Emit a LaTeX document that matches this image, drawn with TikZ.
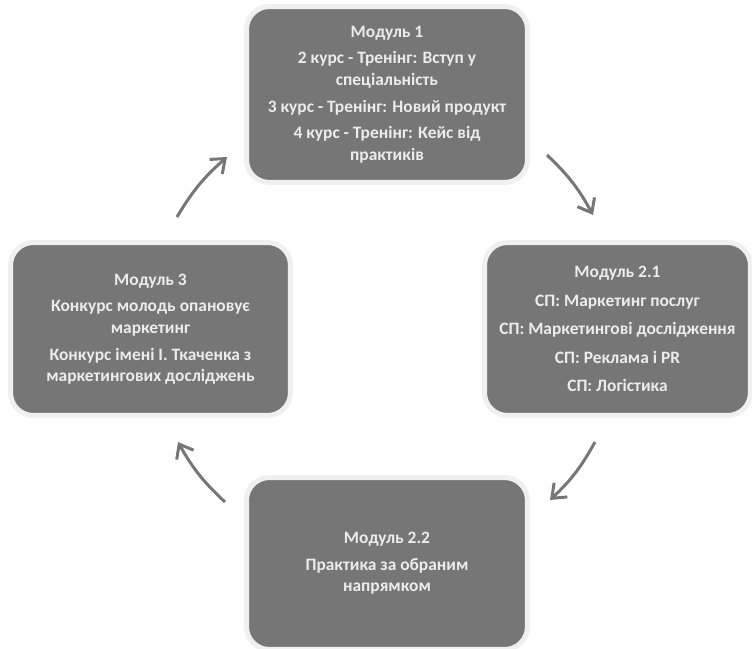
\documentclass[tikz,border=0pt]{standalone}
\usepackage{fontspec}
\setmainfont{Carlito}
\usepackage{tikz}
\usetikzlibrary{calc,arrows.meta}
\definecolor{modfill} {RGB} {118, 118, 118}
\definecolor{modhalo} {RGB} {240, 240, 240}
\definecolor{modtext} {RGB} {236, 236, 236}
\definecolor{cyclegray} {RGB} {118, 118, 118}
\tikzstyle{cycle}=[
  x=0.02cm, y=-0.02cm, font=\bfseries\fontsize{9.9}{12.2}\selectfont
]
\tikzstyle{modnode}=[
  rectangle, rounded corners=13pt, fill=modfill, draw=modhalo, line width=0.1cm,
  text=modtext, align=center, inner sep=0pt
]
\tikzstyle{cycleedge}=[
  draw=cyclegray, line width=0.06cm, -{Straight Barb[length=7pt,width=11pt]}, bend left=9
]
\begin{document}
\begin{tikzpicture}[cycle]
\useasboundingbox (0,0) rectangle (752,649);

\node (m1) [modnode, minimum width=5.62cm, minimum height=3.52cm] at (387, 94.5)
  {Модуль 1\\[3pt] 2 курс - Тренінг: Вступ у\\ спеціальність\\[3pt]
   3 курс - Тренінг: Новий продукт\\[3pt] 4 курс - Тренінг: Кейс від\\ практиків};
\node (m21) [modnode, minimum width=5.32cm, minimum height=3.46cm] at (617.5, 329)
  {Модуль 2.1\\[4pt] СП: Маркетинг послуг\\[4pt] СП: Маркетингові дослідження\\[4pt]
   СП: Реклама і PR\\[4pt] СП: Логістика};
\node (m22) [modnode, minimum width=5.62cm, minimum height=3.44cm] at (387, 563.5)
  {Модуль 2.2\\[3pt] Практика за обраним\\ напрямком};
\node (m3) [modnode, minimum width=5.6cm, minimum height=3.46cm] at (150.5, 329)
  {Модуль 3\\[3pt] Конкурс молодь опановує\\ маркетинг\\[3pt]
   Конкурс імені І. Ткаченка з\\ маркетингових досліджень};

\coordinate (a1s) at ($(m3) + (26.5, -112)$);
\coordinate (a1e) at ($(m1) + (-160, 62.5)$);
\coordinate (a2s) at ($(m1) + (160, 60.5)$);
\coordinate (a2e) at ($(m21) + (-24.5, -114)$);
\coordinate (a3s) at ($(m21) + (-22.5, 113)$);
\coordinate (a3e) at ($(m22) + (163, -63.5)$);
\coordinate (a4s) at ($(m22) + (-162, -61.5)$);
\coordinate (a4e) at ($(m3) + (27.5, 113)$);

\draw [cycleedge] (a1s) to (a1e);
\draw [cycleedge] (a2s) to (a2e);
\draw [cycleedge] (a3s) to (a3e);
\draw [cycleedge] (a4s) to (a4e);
\end{tikzpicture}
\end{document}
